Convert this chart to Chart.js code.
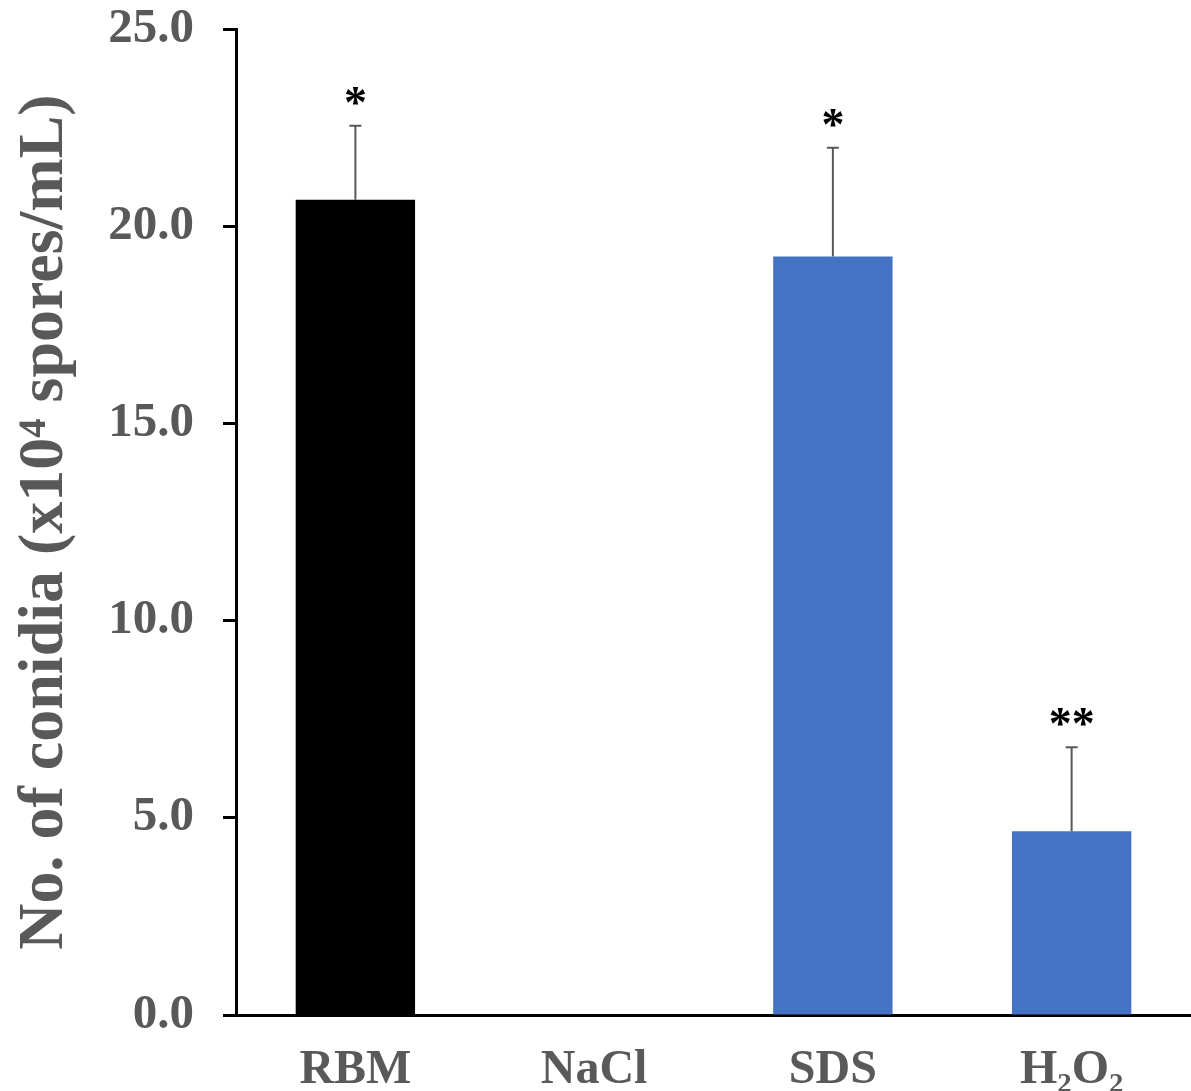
<!DOCTYPE html>
<html>
<head>
<meta charset="utf-8">
<script src="https://cdn.jsdelivr.net/npm/chart.js@4/dist/chart.umd.min.js"></script>
<style>
  html, body { margin: 0; padding: 0; background: #fff; }
  #wrap { width: 1191px; height: 1091px; }
</style>
</head>
<body>
<div id="wrap"><canvas id="conidia_chart"></canvas></div>
<script>
var categories = ['RBM', 'NaCl', 'SDS', 'H\u2082O\u2082'];
var means      = [20.67, 0, 19.23, 4.66];
var errors     = [1.88, 0, 2.76, 2.13];
var stars      = ['*', '', '*', '**'];
var barColors  = ['#000000', '#4472C4', '#4472C4', '#4472C4'];
var yTicks     = [0, 5, 10, 15, 20, 25];

var textGray = '#595959';
var serif = '"Liberation Serif", "Times New Roman", serif';

// error bars (upper only) and significance stars
const errorBarPlugin = {
    id: 'errorBars',
    afterDatasetsDraw(chart) {
        const ctx = chart.ctx;
        const meta = chart.getDatasetMeta(0);
        const y = chart.scales.y;
        ctx.save();
        meta.data.forEach(function (bar, i) {
            if (!errors[i]) return;
            const x = bar.x;
            const yTop = y.getPixelForValue(means[i] + errors[i]);
            const yBase = y.getPixelForValue(means[i]);
            ctx.strokeStyle = textGray;
            ctx.lineWidth = 2;
            ctx.beginPath();
            ctx.moveTo(x, yBase);
            ctx.lineTo(x, yTop);
            ctx.moveTo(x - 6, yTop);
            ctx.lineTo(x + 6, yTop);
            ctx.stroke();
            if (stars[i]) {
                ctx.fillStyle = '#000';
                ctx.font = 'bold 46px ' + serif;
                ctx.textAlign = 'center';
                ctx.textBaseline = 'middle';
                ctx.fillText(stars[i], x, yTop - 20);
            }
        });
        ctx.restore();
    }
};

const data = {
    labels: categories,
    datasets: [
        {
            label: 'No. of conidia',
            data: means,
            backgroundColor: barColors,
            borderWidth: 0,
            categoryPercentage: 1.0,
            barPercentage: 0.5
        }
    ]
};

const config = {
    type: 'bar',
    data: data,
    plugins: [errorBarPlugin],
    options: {
        responsive: false,
        animation: false,
        layout: { padding: 0 },
        plugins: {
            legend: { display: false },
            tooltip: { enabled: false }
        },
        scales: {
            x: {
                grid: { display: false, drawTicks: false },
                border: { display: true, color: '#000', width: 3 },
                ticks: {
                    color: textGray,
                    padding: 27,
                    font: { family: serif, size: 48, weight: 'bold', lineHeight: 1.2 }
                },
                afterFit: function (scale) { scale.height = 76; }
            },
            y: {
                min: 0,
                max: 25,
                afterBuildTicks: function (scale) {
                    scale.ticks = yTicks.map(function (v) { return { value: v }; });
                },
                grid: {
                    drawOnChartArea: false,
                    drawTicks: true,
                    tickLength: 13,
                    tickWidth: 3,
                    tickColor: '#000'
                },
                border: { display: true, color: '#000', width: 3 },
                ticks: {
                    color: textGray,
                    padding: 29,
                    // lineHeight 0 so the top label adds no extra space above the axis
                    font: { family: serif, size: 49, weight: 'bold', lineHeight: 0 },
                    callback: function (v) { return Number(v).toFixed(1); }
                },
                title: {
                    display: true,
                    text: 'No. of conidia (x10\u2074 spores/mL)',
                    color: textGray,
                    padding: { top: 13, bottom: 0 },
                    font: { family: serif, size: 64, weight: 'bold', lineHeight: 1.0 }
                },
                afterFit: function (scale) { scale.width = 236; }
            }
        }
    }
};

const canvas = document.getElementById('conidia_chart');
canvas.width = 1191;
canvas.height = 1091;
var myChart = new Chart(canvas, config);
</script>
</body>
</html>
